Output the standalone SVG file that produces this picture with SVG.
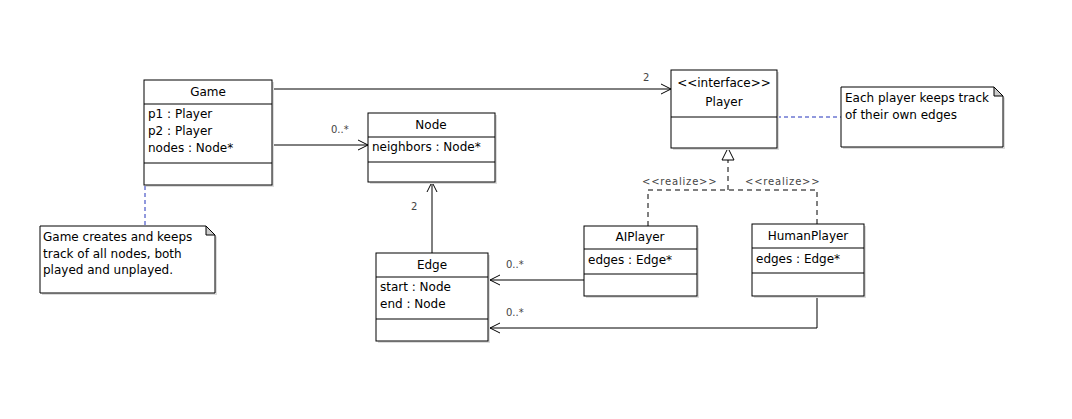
<svg xmlns="http://www.w3.org/2000/svg" width="1072" height="419" viewBox="0 0 1072 419">
<style>
.box{fill:#fff;stroke:#000;stroke-width:1}
.sh{fill:#dcdcdc}
.t{font-family:"DejaVu Sans",sans-serif;font-size:12px;fill:#000}
.c{text-anchor:middle}
.lb{font-family:"DejaVu Sans",sans-serif;font-size:10px;fill:#444}
.rz{letter-spacing:0.8px}
.ln{fill:none;stroke:#000;stroke-width:1}
.dash{fill:none;stroke:#000;stroke-width:1;stroke-dasharray:5,4}
.nd{fill:none;stroke:#2233bb;stroke-width:1;stroke-dasharray:4,3}
</style>
<defs>
<marker id="open" markerWidth="12" markerHeight="12" refX="11" refY="6" orient="auto" markerUnits="userSpaceOnUse">
<polyline points="1,1 11,6 1,11" fill="none" stroke="#000" stroke-width="1"/>
</marker>
<marker id="tri" markerWidth="16" markerHeight="14" refX="13" refY="7" orient="auto" markerUnits="userSpaceOnUse">
<polygon points="1,1 13,7 1,13" fill="#fff" stroke="#000" stroke-width="1"/>
</marker>
</defs>
<rect width="1072" height="419" fill="#fff"/>

<g id="connectors">
<line class="ln" x1="272" y1="89" x2="671" y2="89" marker-end="url(#open)"/>
<text class="lb" x="643" y="81">2</text>
<line class="ln" x1="272" y1="145" x2="368" y2="145" marker-end="url(#open)"/>
<text class="lb" x="331" y="133">0..*</text>
<line class="ln" x1="432" y1="253" x2="432" y2="182" marker-end="url(#open)"/>
<text class="lb" x="411" y="210">2</text>
<line class="ln" x1="584" y1="280" x2="490" y2="280" marker-end="url(#open)"/>
<text class="lb" x="506" y="268">0..*</text>
<polyline class="ln" points="817,297 817,328 490,328" marker-end="url(#open)"/>
<text class="lb" x="506" y="316">0..*</text>
<polyline class="dash" points="648,226 648,190 817,190 817,224"/>
<line class="dash" x1="728" y1="190" x2="728" y2="148" marker-end="url(#tri)"/>
<text class="lb rz" x="642" y="185">&lt;&lt;realize&gt;&gt;</text>
<text class="lb rz" x="745" y="185">&lt;&lt;realize&gt;&gt;</text>
<line class="nd" x1="777" y1="117" x2="841" y2="117"/>
<line class="nd" x1="145" y1="186" x2="145" y2="226"/>
</g>

<g id="Game">
<rect class="sh" x="146" y="82" width="128" height="105"/>
<rect class="box" x="144" y="80" width="128" height="105"/>
<line class="ln" x1="144" y1="104" x2="272" y2="104"/>
<line class="ln" x1="144" y1="163" x2="272" y2="163"/>
<text class="t c" x="208" y="96">Game</text>
<text class="t" x="148" y="118">p1 : Player</text>
<text class="t" x="148" y="135">p2 : Player</text>
<text class="t" x="148" y="152">nodes : Node*</text>
</g>

<g id="Node">
<rect class="sh" x="370" y="115" width="127" height="69"/>
<rect class="box" x="368" y="113" width="127" height="69"/>
<line class="ln" x1="368" y1="137" x2="495" y2="137"/>
<line class="ln" x1="368" y1="162" x2="495" y2="162"/>
<text class="t c" x="431" y="129">Node</text>
<text class="t" x="372" y="151">neighbors : Node*</text>
</g>

<g id="Player">
<rect class="sh" x="673" y="72" width="106" height="78"/>
<rect class="box" x="671" y="70" width="106" height="78"/>
<line class="ln" x1="671" y1="117" x2="777" y2="117"/>
<text class="t c" x="724" y="87">&lt;&lt;interface&gt;&gt;</text>
<text class="t c" x="724" y="106">Player</text>
</g>

<g id="Edge">
<rect class="sh" x="378" y="255" width="112" height="88"/>
<rect class="box" x="376" y="253" width="112" height="88"/>
<line class="ln" x1="376" y1="277" x2="488" y2="277"/>
<line class="ln" x1="376" y1="319" x2="488" y2="319"/>
<text class="t c" x="432" y="269">Edge</text>
<text class="t" x="380" y="291">start : Node</text>
<text class="t" x="380" y="308">end : Node</text>
</g>

<g id="AIPlayer">
<rect class="sh" x="586" y="228" width="113" height="70"/>
<rect class="box" x="584" y="226" width="113" height="70"/>
<line class="ln" x1="584" y1="249" x2="697" y2="249"/>
<line class="ln" x1="584" y1="274" x2="697" y2="274"/>
<text class="t c" x="640" y="241">AIPlayer</text>
<text class="t" x="588" y="264">edges : Edge*</text>
</g>

<g id="HumanPlayer">
<rect class="sh" x="754" y="226" width="112" height="72"/>
<rect class="box" x="752" y="224" width="112" height="72"/>
<line class="ln" x1="752" y1="248" x2="864" y2="248"/>
<line class="ln" x1="752" y1="273" x2="864" y2="273"/>
<text class="t c" x="808" y="240">HumanPlayer</text>
<text class="t" x="756" y="263">edges : Edge*</text>
</g>

<g id="NotePlayer">
<path class="sh" d="M843,89 H996 L1005,98 V149 H843 Z"/>
<path class="box" d="M841,87 H994 L1003,96 V147 H841 Z"/>
<path d="M994,87 V96 H1003 Z" fill="#ccc" stroke="#000" stroke-width="1"/>
<text class="t" x="845" y="102">Each player keeps track</text>
<text class="t" x="845" y="119">of their own edges</text>
</g>

<g id="NoteGame">
<path class="sh" d="M42,228 H208 L217,237 V295 H42 Z"/>
<path class="box" d="M40,226 H206 L215,235 V293 H40 Z"/>
<path d="M206,226 V235 H215 Z" fill="#ccc" stroke="#000" stroke-width="1"/>
<text class="t" x="43" y="241">Game creates and keeps</text>
<text class="t" x="43" y="258">track of all nodes, both</text>
<text class="t" x="43" y="274">played and unplayed.</text>
</g>
</svg>
